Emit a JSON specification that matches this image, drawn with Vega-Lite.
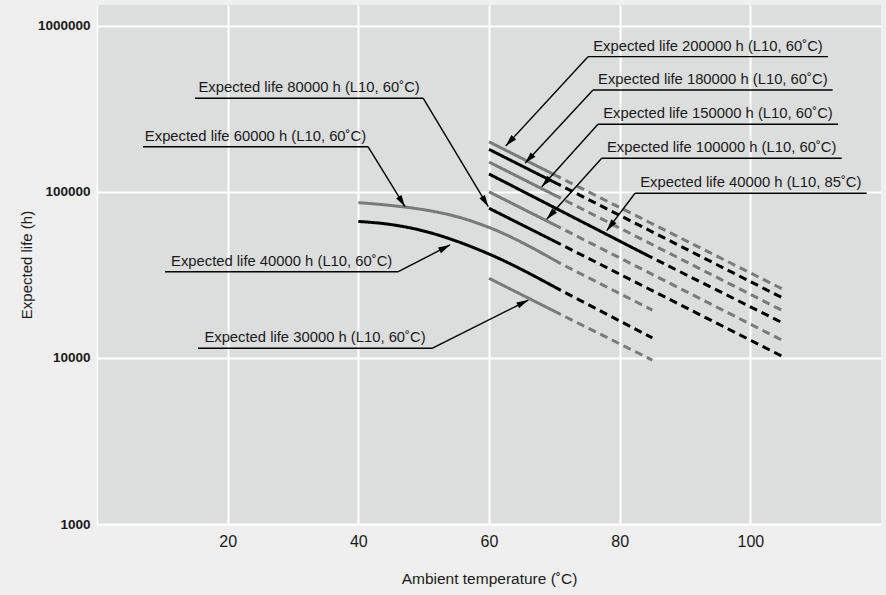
{
  "$schema": "https://vega.github.io/schema/vega-lite/v6.json",
  "width": 784,
  "height": 519,
  "autosize": {"type": "none"},
  "padding": {"left": 97, "top": 5, "right": 5, "bottom": 71},
  "background": "#efefef",
  "config": {
    "view": {"fill": "#dcdddd", "stroke": null},
    "font": "Liberation Sans",
    "axis": {
      "gridColor": "#ffffff",
      "gridWidth": 2,
      "gridOpacity": 1,
      "ticks": false,
      "domain": false,
      "labelColor": "#1a1a1a",
      "titleColor": "#1a1a1a",
      "titleFontWeight": "normal"
    }
  },
  "datasets": {
    "lines": [
      {"seg": "200k-s", "tone": "gray", "dash": "solid", "t": 60, "v": 200000},
      {"seg": "200k-s", "tone": "gray", "dash": "solid", "t": 71, "v": 121000},
      {"seg": "200k-d", "tone": "gray", "dash": "dashed", "t": 71, "v": 121000},
      {"seg": "200k-d", "tone": "gray", "dash": "dashed", "t": 105, "v": 25900},
      {"seg": "180k-s", "tone": "black", "dash": "solid", "t": 60, "v": 180000},
      {"seg": "180k-s", "tone": "black", "dash": "solid", "t": 71, "v": 109000},
      {"seg": "180k-d", "tone": "black", "dash": "dashed", "t": 71, "v": 109000},
      {"seg": "180k-d", "tone": "black", "dash": "dashed", "t": 105, "v": 22900},
      {"seg": "150k-s", "tone": "gray", "dash": "solid", "t": 60, "v": 151000},
      {"seg": "150k-s", "tone": "gray", "dash": "solid", "t": 71, "v": 91400},
      {"seg": "150k-d", "tone": "gray", "dash": "dashed", "t": 71, "v": 91400},
      {"seg": "150k-d", "tone": "gray", "dash": "dashed", "t": 105, "v": 19200},
      {"seg": "40k85-s", "tone": "black", "dash": "solid", "t": 60, "v": 128000},
      {"seg": "40k85-s", "tone": "black", "dash": "solid", "t": 85, "v": 40000},
      {"seg": "40k85-d", "tone": "black", "dash": "dashed", "t": 85, "v": 40000},
      {"seg": "40k85-d", "tone": "black", "dash": "dashed", "t": 105, "v": 16200},
      {"seg": "100k-s", "tone": "gray", "dash": "solid", "t": 60, "v": 100000},
      {"seg": "100k-s", "tone": "gray", "dash": "solid", "t": 71, "v": 60500},
      {"seg": "100k-d", "tone": "gray", "dash": "dashed", "t": 71, "v": 60500},
      {"seg": "100k-d", "tone": "gray", "dash": "dashed", "t": 105, "v": 12700},
      {"seg": "80k-s", "tone": "black", "dash": "solid", "t": 60, "v": 79600},
      {"seg": "80k-s", "tone": "black", "dash": "solid", "t": 71, "v": 48200},
      {"seg": "80k-d", "tone": "black", "dash": "dashed", "t": 71, "v": 48200},
      {"seg": "80k-d", "tone": "black", "dash": "dashed", "t": 105, "v": 10170},
      {"seg": "60k-s", "tone": "gray", "dash": "solid", "t": 40, "v": 86100},
      {"seg": "60k-s", "tone": "gray", "dash": "solid", "t": 45, "v": 82700},
      {"seg": "60k-s", "tone": "gray", "dash": "solid", "t": 50, "v": 78000},
      {"seg": "60k-s", "tone": "gray", "dash": "solid", "t": 55, "v": 71000},
      {"seg": "60k-s", "tone": "gray", "dash": "solid", "t": 60, "v": 61000},
      {"seg": "60k-s", "tone": "gray", "dash": "solid", "t": 71, "v": 36900},
      {"seg": "60k-d", "tone": "gray", "dash": "dashed", "t": 71, "v": 36900},
      {"seg": "60k-d", "tone": "gray", "dash": "dashed", "t": 85, "v": 19400},
      {"seg": "40k-s", "tone": "black", "dash": "solid", "t": 40, "v": 66300},
      {"seg": "40k-s", "tone": "black", "dash": "solid", "t": 45, "v": 63500},
      {"seg": "40k-s", "tone": "black", "dash": "solid", "t": 50, "v": 58100},
      {"seg": "40k-s", "tone": "black", "dash": "solid", "t": 55, "v": 50500},
      {"seg": "40k-s", "tone": "black", "dash": "solid", "t": 60, "v": 42200},
      {"seg": "40k-s", "tone": "black", "dash": "solid", "t": 71, "v": 25500},
      {"seg": "40k-d", "tone": "black", "dash": "dashed", "t": 71, "v": 25500},
      {"seg": "40k-d", "tone": "black", "dash": "dashed", "t": 85, "v": 13200},
      {"seg": "30k-s", "tone": "gray", "dash": "solid", "t": 60, "v": 30150},
      {"seg": "30k-s", "tone": "gray", "dash": "solid", "t": 71, "v": 18250},
      {"seg": "30k-d", "tone": "gray", "dash": "dashed", "t": 71, "v": 18250},
      {"seg": "30k-d", "tone": "gray", "dash": "dashed", "t": 85, "v": 9700}
    ],
    "notes": [
      {"label": "Expected life 200000 h (L10, 60˚C)", "x1": 75.15, "x2": 111.89, "y": 650800, "sx": 75.15, "tx": 62.56, "ty": 188700},
      {"label": "Expected life 180000 h (L10, 60˚C)", "x1": 75.92, "x2": 112.6, "y": 410100, "sx": 75.92, "tx": 65.51, "ty": 148450},
      {"label": "Expected life 150000 h (L10, 60˚C)", "x1": 76.68, "x2": 113.42, "y": 254900, "sx": 76.68, "tx": 68.07, "ty": 107300},
      {"label": "Expected life 100000 h (L10, 60˚C)", "x1": 77.25, "x2": 113.98, "y": 159100, "sx": 77.25, "tx": 68.83, "ty": 68300},
      {"label": "Expected life 40000 h (L10, 85˚C)", "x1": 82.35, "x2": 117.81, "y": 97950, "sx": 82.35, "tx": 78.02, "ty": 58330},
      {"label": "Expected life 80000 h (L10, 60˚C)", "x1": 15.0, "x2": 49.94, "y": 365500, "sx": 49.94, "tx": 59.89, "ty": 81350},
      {"label": "Expected life 60000 h (L10, 60˚C)", "x1": 7.04, "x2": 41.48, "y": 186800, "sx": 41.48, "tx": 47.14, "ty": 81350},
      {"label": "Expected life 40000 h (L10, 60˚C)", "x1": 10.41, "x2": 46.12, "y": 33040, "sx": 46.12, "tx": 54.03, "ty": 47830},
      {"label": "Expected life 30000 h (L10, 60˚C)", "x1": 15.46, "x2": 51.28, "y": 11420, "sx": 51.28, "tx": 66.02, "ty": 22310}
    ]
  },
  "layer": [
    {
      "data": {"name": "lines"},
      "mark": {"type": "line", "strokeWidth": 3, "interpolate": "monotone", "strokeDashOffset": 8},
      "encoding": {
        "x": {
          "field": "t", "type": "quantitative",
          "scale": {"domain": [0, 120], "nice": false, "zero": false},
          "axis": {
            "values": [20, 40, 60, 80, 100],
            "labelFontSize": 16,
            "labelPadding": 9,
            "labelFlush": false,
            "title": "Ambient temperature (˚C)",
            "titleFontSize": 15.5,
            "titlePadding": 22
          }
        },
        "y": {
          "field": "v", "type": "quantitative",
          "scale": {"type": "log", "domain": [1000, 1332000], "nice": false},
          "axis": {
            "values": [1000, 10000, 100000, 1000000],
            "format": "d",
            "labelFont": "Liberation Sans",
            "labelFontWeight": "bold",
            "labelFontSize": 13.5,
            "labelPadding": 7,
            "domain": true,
            "domainColor": "#ffffff",
            "domainWidth": 1.5,
            "title": "Expected life (h)",
            "titleFontSize": 15,
            "titlePadding": 3
          }
        },
        "detail": {"field": "seg"},
        "color": {
          "field": "tone", "type": "nominal",
          "scale": {"domain": ["gray", "black"], "range": ["#7a7a7a", "#000000"]},
          "legend": null
        },
        "strokeDash": {
          "field": "dash", "type": "nominal",
          "scale": {"domain": ["solid", "dashed"], "range": [[1, 0], [8, 5]]},
          "legend": null
        }
      }
    },
    {
      "data": {"name": "notes"},
      "mark": {"type": "rule", "color": "#000000", "strokeWidth": 1.4},
      "encoding": {
        "x": {"field": "x1", "type": "quantitative"},
        "x2": {"field": "x2"},
        "y": {"field": "y", "type": "quantitative"}
      }
    },
    {
      "data": {"name": "notes"},
      "mark": {"type": "rule", "color": "#000000", "strokeWidth": 1.4},
      "encoding": {
        "x": {"field": "sx", "type": "quantitative"},
        "y": {"field": "y", "type": "quantitative"},
        "x2": {"field": "tx"},
        "y2": {"field": "ty"}
      }
    },
    {
      "data": {"name": "notes"},
      "transform": [
        {"calculate": "atan2((datum.tx - datum.sx) * 6.5333, (log(datum.ty) - log(datum.y)) / LN10 * 166.1) * 180 / PI", "as": "ang"}
      ],
      "mark": {"type": "point", "shape": "M0,0L0.27,1L-0.27,1Z", "filled": true, "size": 560, "color": "#000000", "opacity": 1, "strokeWidth": 0},
      "encoding": {
        "x": {"field": "tx", "type": "quantitative"},
        "y": {"field": "ty", "type": "quantitative"},
        "angle": {"field": "ang", "type": "quantitative", "scale": null}
      }
    },
    {
      "data": {"name": "notes"},
      "transform": [{"calculate": "(datum.x1 + datum.x2) / 2", "as": "xm"}],
      "mark": {"type": "text", "align": "center", "baseline": "alphabetic", "dy": -6, "fontSize": 14.8, "color": "#1a1a1a"},
      "encoding": {
        "x": {"field": "xm", "type": "quantitative"},
        "y": {"field": "y", "type": "quantitative"},
        "text": {"field": "label"}
      }
    }
  ]
}
